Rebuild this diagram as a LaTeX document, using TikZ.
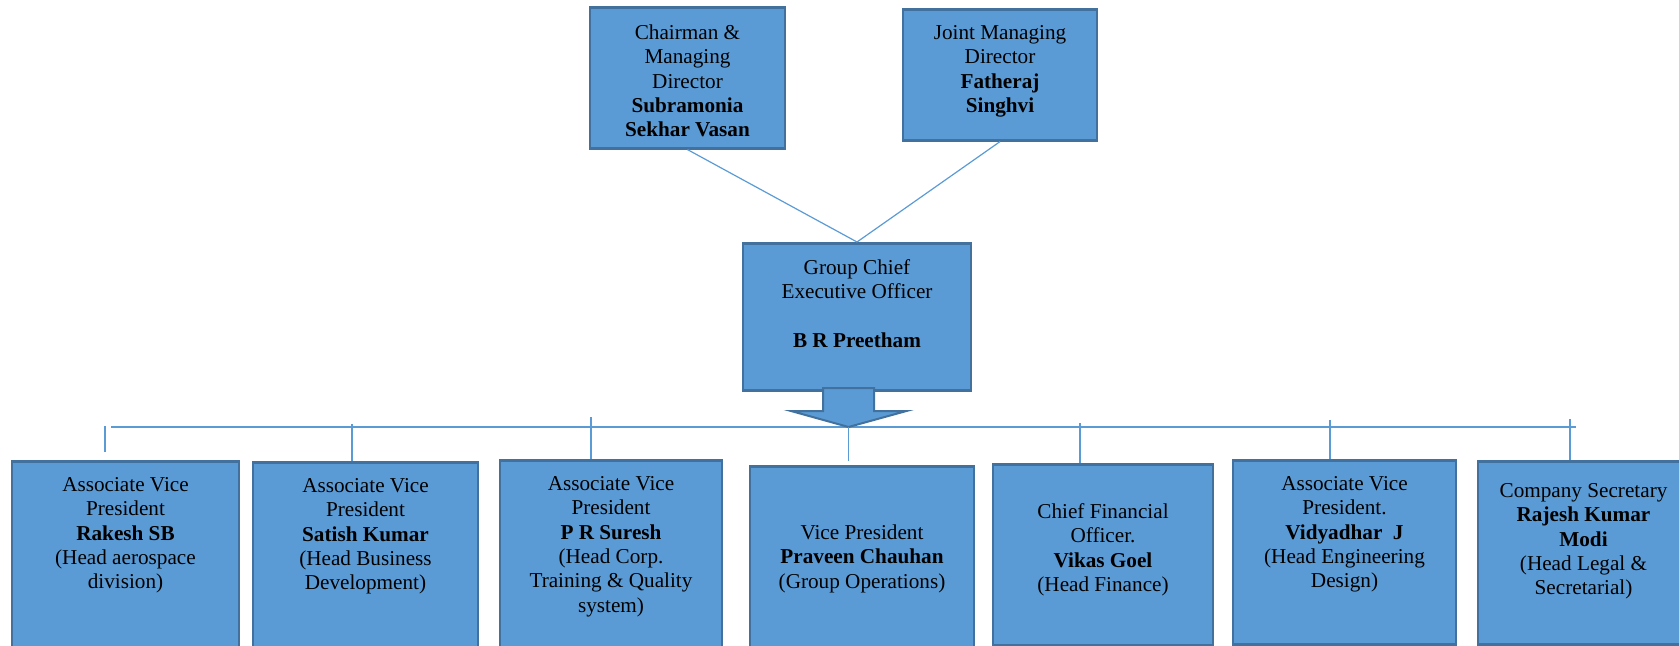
\documentclass[tikz,border=0pt]{standalone}
\usepackage{fontspec}
\setmainfont{Liberation Serif}
\definecolor{boxfill}{HTML}{5B9BD5}
\definecolor{boxline}{HTML}{41719C}

\begin{document}
\begin{tikzpicture}[
  x=0.5pt, y=-0.5pt,
  every node/.style={font=\fontsize{10.6}{12.2}\selectfont, inner sep=0pt},
  post/.style={draw=boxline, fill=boxfill, line width=1.3pt, align=flush center, anchor=north},
  link/.style={-, draw=boxfill, line width=0.6pt},
  blockarrow/.style={draw=boxline, fill=boxfill, line width=1pt, line join=miter},
]
  \useasboundingbox (0,0) rectangle (1679,646);
  % Top level
  \node[post, text width=97.5pt, text height=16pt, text depth=54.5pt] (cmd) at (687.5,6)
    {Chairman \&\\ Managing\\ Director\\ \textbf{Subramonia}\\ \textbf{Sekhar Vasan}};
  \node[post, text width=97pt, text height=15pt, text depth=50.5pt] (jmd) at (1000,8)
    {Joint Managing\\ Director\\ \textbf{Fatheraj}\\ \textbf{Singhvi}};
  \node[post, text width=114pt, text height=15.5pt, text depth=58pt] (ceo) at (857,242)
    {Group Chief\\ Executive Officer\\[12.2pt] \textbf{B R Preetham}};
  % Second level
  \node[post, text width=113.5pt, text height=15pt, text depth=85pt] (avp1) at (125.5,460)
    {Associate Vice\\ President\\ \textbf{Rakesh SB}\\ (Head aerospace\\ division)};
  \node[post, text width=112.5pt, text height=15pt, text depth=84.5pt] (avp2) at (365.5,461)
    {Associate Vice\\ President\\ \textbf{Satish Kumar}\\ (Head Business\\ Development)};
  \node[post, text width=111pt, text height=15pt, text depth=85.5pt] (avp3) at (611,459)
    {Associate Vice\\ President\\ \textbf{P R Suresh}\\ (Head Corp.\\ Training \& Quality\\ system)};
  \node[post, text width=112pt, text height=36.5pt, text depth=61pt] (vp) at (862,465)
    {Vice President\\ \textbf{Praveen Chauhan}\\ (Group Operations)};
  \node[post, text width=110pt, text height=27pt, text depth=63.5pt] (cfo) at (1103,463)
    {Chief Financial\\ Officer.\\ \textbf{Vikas Goel}\\ (Head Finance)};
  \node[post, text width=111.5pt, text height=15pt, text depth=77pt] (avp4) at (1344.5,459)
    {Associate Vice\\ President.\\ \textbf{Vidyadhar\ \ J}\\ (Head Engineering\\ Design)};
  \node[post, text width=105.5pt, text height=18pt, text depth=73.5pt] (cs) at (1583.5,460)
    {Company Secretary\\ \textbf{Rajesh Kumar}\\ \textbf{Modi}\\ (Head Legal \&\\ Secretarial)};
  % Board to CEO
  \draw[link] (cmd.south) -- (ceo.north);
  \draw[link] (jmd.south) -- (ceo.north);
  % Bus line and block arrow
  \coordinate (tip) at (848.5,427);
  \coordinate (busw) at (111,427);
  \coordinate (buse) at (1576,427);
  \draw[link] (busw) -- (buse);
  \draw[blockarrow] (tip) -- ++(-57.5,-16) -- ++(32,0) -- ++(0,-23) -- ++(51,0)
    -- ++(0,23) -- ++(32.5,0) -- cycle;
  % Drops to each post
  \coordinate (t1) at (105,426);
  \coordinate (t2) at (352,424);
  \coordinate (t3) at (591,417);
  \coordinate (t5) at (1080,423);
  \coordinate (t6) at (1330,420);
  \coordinate (t7) at (1570,419);
  \draw[link, shorten >=4pt] (t1) -- (t1 |- avp1.north);
  \draw[link] (t2) -- (t2 |- avp2.north);
  \draw[link] (t3) -- (t3 |- avp3.north);
  \draw[link, shorten >=2pt] (tip) -- (tip |- vp.north);
  \draw[link] (t5) -- (t5 |- cfo.north);
  \draw[link] (t6) -- (t6 |- avp4.north);
  \draw[link] (t7) -- (t7 |- cs.north);
\end{tikzpicture}
\end{document}
